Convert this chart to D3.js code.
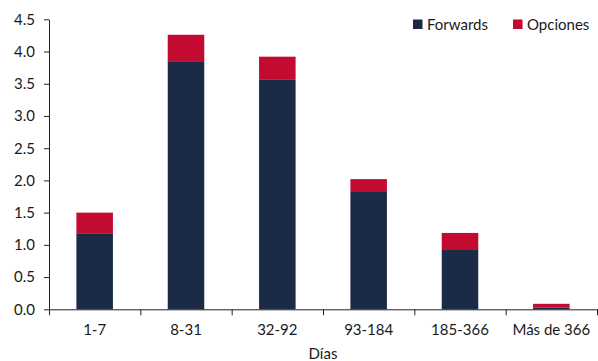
<!DOCTYPE html>
<html><head><meta charset="utf-8">
<script src="https://cdn.jsdelivr.net/npm/d3@7"></script>
<style>body{margin:0;background:#fff}svg{display:block}text{font-family:Lato,"Open Sans",sans-serif;fill:#1a1a1a}</style>
</head><body><svg id="c" width="598" height="361"></svg>
<script>
const categories = ["1-7","8-31","32-92","93-184","185-366","Más de 366"];
const forwards = [1.18, 3.85, 3.56, 1.82, 0.92, 0.03];
const opciones = [0.32, 0.41, 0.36, 0.20, 0.265, 0.055];
const yTicks = [0,0.5,1,1.5,2,2.5,3,3.5,4,4.5];
const seriesNames = ["Forwards","Opciones"];
const colors = ["#1b2b47","#c30b32"];

const svg = d3.select("#c");
const m = {left:49, right:1, top:19.3, bottom:51.7};
const W = 598, H = 361;
const FS = "15px";
const x = d3.scaleBand().domain(categories).range([m.left, W-m.right]).paddingInner(0.6).paddingOuter(0.3);
const y = d3.scaleLinear().domain([0,4.5]).range([H-m.bottom, m.top]);

const data = categories.map((c,i)=>({cat:c, Forwards:forwards[i], Opciones:opciones[i]}));
const stack = d3.stack().keys(seriesNames)(data);
svg.append("g").selectAll("g").data(stack).join("g").attr("fill",(d,i)=>colors[i])
  .selectAll("rect").data(d=>d).join("rect")
  .attr("x",d=>x(d.data.cat)).attr("width",x.bandwidth())
  .attr("y",d=>y(d[1])).attr("height",d=>y(d[0])-y(d[1]));

// y axis
const ya = svg.append("g").attr("transform",`translate(${m.left},0)`)
  .call(d3.axisLeft(y).tickValues(yTicks).tickFormat(d3.format(".1f")).tickSize(5).tickSizeOuter(0).tickPadding(9));
ya.select(".domain").attr("stroke","#222");
ya.selectAll("line").attr("stroke","#222");
ya.selectAll("text").attr("font-size",FS).attr("fill","#1a1a1a").attr("font-family","Lato");

// x axis
const xb = d3.scaleLinear().domain([0,categories.length]).range([m.left, W-m.right]);
const xa = svg.append("g").attr("transform",`translate(0,${y(0)})`)
  .call(d3.axisBottom(xb).tickValues(d3.range(categories.length+1)).tickFormat("").tickSize(6).tickSizeOuter(0));
xa.select(".domain").attr("stroke","#222");
xa.selectAll("line").attr("stroke","#222");
svg.append("g").selectAll("text").data(categories).join("text")
  .attr("x",d=>x(d)+x.bandwidth()/2).attr("y",y(0)+26).attr("text-anchor","middle")
  .attr("font-size",FS).text(d=>d);
svg.append("text").attr("x",(m.left+W-m.right)/2).attr("y",359).attr("text-anchor","middle").attr("font-size",FS).text("Días");

// legend
const lx = [413, 513];
const lg = svg.append("g");
seriesNames.forEach((s,i)=>{
  lg.append("rect").attr("x",lx[i]).attr("y",19.5).attr("width",9.5).attr("height",9.5).attr("fill",colors[i]);
  lg.append("text").attr("x",lx[i]+14).attr("y",29.5).attr("font-size",FS).text(s);
});
</script></body></html>
